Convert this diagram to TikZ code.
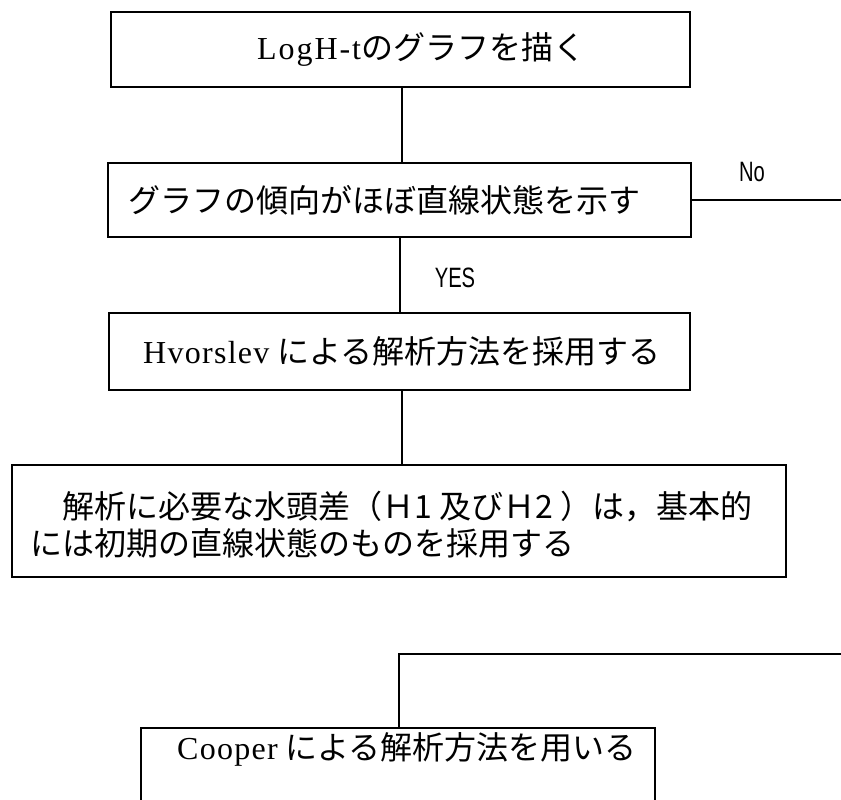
\documentclass[tikz,border=0pt]{standalone}
\usepackage{fontspec}
\setmainfont{Liberation Serif}
\newfontfamily\jp{Noto Sans CJK JP}
\newfontfamily\lbl{Liberation Sans}
\begin{document}
\begin{tikzpicture}[x=1pt,y=-1pt,
  box/.style={draw=black,line width=2.2pt,rectangle,inner sep=0pt,minimum width=#1},
  conn/.style={draw=black,line width=2.2pt},
  txt/.style={anchor=west,inner sep=0pt,font=\fontsize{32pt}{36pt}\selectfont},
  lab/.style={inner sep=0pt,font=\lbl\fontsize{28pt}{30pt}\selectfont}]
\useasboundingbox (0,0) rectangle (841,800);
\clip (0,0) rectangle (841,800);
\fill[white] (0,0) rectangle (841,800);
% boxes
\node[box=579pt,minimum height=75pt] (b1) at (400.5,49.5) {};
\node[box=583pt,minimum height=74pt] (b2) at (399.5,200) {};
\node[box=581pt,minimum height=77pt] (b3) at (399.5,351.5) {};
\node[box=774pt,minimum height=112pt] (b4) at (399,521) {};
\node[box=514pt,minimum height=110pt] (b5) at (398,783) {};
% texts
\node[txt] (t1) at (257,49.5) {{\addfontfeature{LetterSpace=6}LogH-t}{\jp のグラフを描く}};
\node[txt] (t2) at (128,200) {\jp グラフの傾向がほぼ直線状態を示す};
\node[txt] (t3) at (143,351.5) {{\addfontfeature{LetterSpace=4}Hvorslev} {\jp による解析方法を採用する}};
\node[txt] (t4a) at (30,507) {\jp 　解析に必要な水頭差（Ｈ1 及びＨ2 ）は，基本的};
\node[txt] (t4b) at (30,543) {\jp には初期の直線状態のものを採用する};
\node[txt] (t5) at (177,749) {{\addfontfeature{LetterSpace=4}Cooper} {\jp による解析方法を用いる}};
\node[lab] (no) at (752,172) {\scalebox{0.72}[1]{No}};
\node[lab] (yes) at (455,278) {\scalebox{0.72}[1]{YES}};
% connector coordinates
\coordinate (c1) at (402,0);
\coordinate (c2) at (400,0);
\coordinate (c3) at (402,0);
\coordinate (c5) at (399,0);
\coordinate (noend) at (841,200);
\coordinate (cin) at (841,654);
% connectors
\draw[conn] (b1.south -| c1) -- (b2.north -| c1);
\draw[conn] (b2.east) -- (noend);
\draw[conn] (b2.south -| c2) -- (b3.north -| c2);
\draw[conn] (b3.south -| c3) -- (b4.north -| c3);
\draw[conn] (cin) -- (cin -| c5) -- (b5.north -| c5);
\end{tikzpicture}
\end{document}
